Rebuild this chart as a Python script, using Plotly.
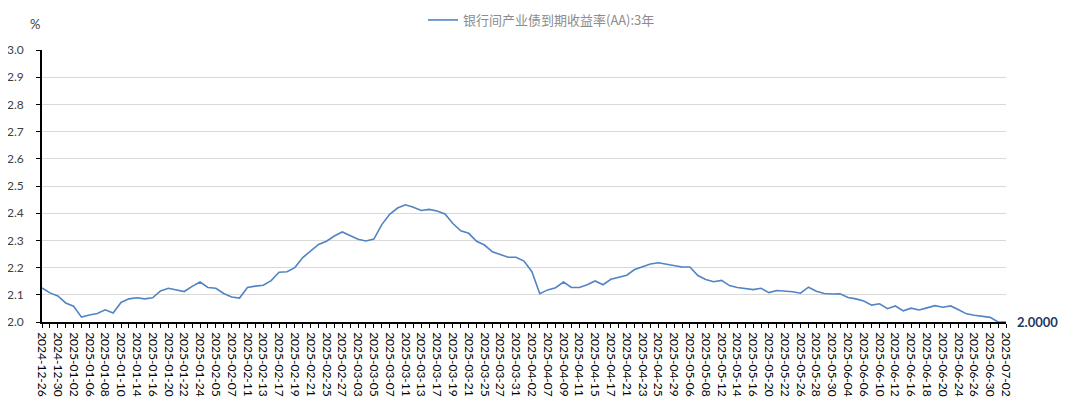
import plotly.graph_objects as go

dates = [
    "2024-12-26", "2024-12-27", "2024-12-30", "2024-12-31",
    "2025-01-02", "2025-01-03", "2025-01-06", "2025-01-07", "2025-01-08", "2025-01-09", "2025-01-10",
    "2025-01-13", "2025-01-14", "2025-01-15", "2025-01-16", "2025-01-17", "2025-01-20", "2025-01-21",
    "2025-01-22", "2025-01-23", "2025-01-24", "2025-01-27",
    "2025-02-05", "2025-02-06", "2025-02-07", "2025-02-10", "2025-02-11", "2025-02-12", "2025-02-13",
    "2025-02-14", "2025-02-17", "2025-02-18", "2025-02-19", "2025-02-20", "2025-02-21", "2025-02-24",
    "2025-02-25", "2025-02-26", "2025-02-27", "2025-02-28",
    "2025-03-03", "2025-03-04", "2025-03-05", "2025-03-06", "2025-03-07", "2025-03-10", "2025-03-11",
    "2025-03-12", "2025-03-13", "2025-03-14", "2025-03-17", "2025-03-18", "2025-03-19", "2025-03-20",
    "2025-03-21", "2025-03-24", "2025-03-25", "2025-03-26", "2025-03-27", "2025-03-28", "2025-03-31",
    "2025-04-01", "2025-04-02", "2025-04-03", "2025-04-07", "2025-04-08", "2025-04-09", "2025-04-10",
    "2025-04-11", "2025-04-14", "2025-04-15", "2025-04-16", "2025-04-17", "2025-04-18", "2025-04-21",
    "2025-04-22", "2025-04-23", "2025-04-24", "2025-04-25", "2025-04-28", "2025-04-29", "2025-04-30",
    "2025-05-06", "2025-05-07", "2025-05-08", "2025-05-09", "2025-05-12", "2025-05-13", "2025-05-14",
    "2025-05-15", "2025-05-16", "2025-05-19", "2025-05-20", "2025-05-21", "2025-05-22", "2025-05-23",
    "2025-05-26", "2025-05-27", "2025-05-28", "2025-05-29", "2025-05-30",
    "2025-06-03", "2025-06-04", "2025-06-05", "2025-06-06", "2025-06-09", "2025-06-10", "2025-06-11",
    "2025-06-12", "2025-06-13", "2025-06-16", "2025-06-17", "2025-06-18", "2025-06-19", "2025-06-20",
    "2025-06-23", "2025-06-24", "2025-06-25", "2025-06-26", "2025-06-27", "2025-06-30",
    "2025-07-01", "2025-07-02",
]

yield_aa_3y = [
    2.125, 2.107, 2.096, 2.070, 2.058, 2.018, 2.026, 2.031, 2.045, 2.033,
    2.072, 2.085, 2.089, 2.085, 2.089, 2.114, 2.124, 2.119, 2.112, 2.131,
    2.147, 2.127, 2.124, 2.105, 2.092, 2.088, 2.127, 2.132, 2.135, 2.152,
    2.183, 2.185, 2.200, 2.237, 2.262, 2.285, 2.297, 2.316, 2.331, 2.316,
    2.304, 2.298, 2.305, 2.358, 2.396, 2.419, 2.431, 2.422, 2.410, 2.414,
    2.408, 2.397, 2.362, 2.335, 2.326, 2.297, 2.283, 2.258, 2.247, 2.238,
    2.238, 2.224, 2.185, 2.104, 2.118, 2.126, 2.147, 2.127, 2.127, 2.137,
    2.151, 2.137, 2.157, 2.165, 2.172, 2.193, 2.203, 2.213, 2.218, 2.213,
    2.209, 2.202, 2.202, 2.171, 2.156, 2.148, 2.153, 2.134, 2.127, 2.124,
    2.119, 2.124, 2.108, 2.116, 2.114, 2.111, 2.106, 2.128, 2.113, 2.105,
    2.103, 2.104, 2.090, 2.085, 2.077, 2.062, 2.067, 2.049, 2.059, 2.041,
    2.051, 2.044, 2.052, 2.060, 2.054, 2.059, 2.045, 2.030, 2.025, 2.022,
    2.017, 2.000, 2.000,
]

series_name = "银行间产业债到期收益率(AA):3年"
y_ticks = [2.0, 2.1, 2.2, 2.3, 2.4, 2.5, 2.6, 2.7, 2.8, 2.9, 3.0]

idx = list(range(len(dates)))
label_idx = idx[::2]
label_txt = [dates[i] for i in label_idx]

LINE = "#5084C4"
FONT = "Lato, 'Noto Sans', sans-serif"

# page body has an 8px default margin, so the figure is 8px smaller and shifted
fig = go.Figure()
fig.add_trace(go.Scatter(
    x=idx, y=yield_aa_3y, mode="lines", name=series_name,
    line=dict(color=LINE, width=1.6), hoverinfo="skip",
))

fig.update_layout(
    template="none",
    width=1072, height=394,
    margin=dict(l=34, r=74, t=42, b=80, autoexpand=False),
    paper_bgcolor="white", plot_bgcolor="white",
    showlegend=True,
    legend=dict(
        orientation="h", x=(423 - 42) / 964, xanchor="left",
        y=1 + 30 / 272, yanchor="middle",
        font=dict(family="'Noto Sans CJK SC', sans-serif", size=13, color="#8c8c8c"),
        bgcolor="rgba(0,0,0,0)",
    ),
    xaxis=dict(
        automargin=False,
        range=[0, len(dates) - 1],
        tickmode="array", tickvals=label_idx, ticktext=label_txt,
        tickangle=90,
        ticks="outside", ticklen=4, tickcolor="black", tickwidth=1,
        minor=dict(dtick=1, tick0=0, ticks="outside", ticklen=4, tickcolor="black", tickwidth=1, showgrid=False),
        showline=True, linecolor="black", linewidth=1.5,
        showgrid=False, zeroline=False,
        ticklabelstandoff=2,
        tickfont=dict(family=FONT, size=12, color="#000000"),
    ),
    yaxis=dict(
        automargin=False,
        range=[2.0, 3.0],
        tickmode="array", tickvals=y_ticks, ticktext=[f"{v:.1f}" for v in y_ticks],
        ticks="outside", ticklen=4, tickcolor="black",
        showline=True, linecolor="black", linewidth=1.5,
        showgrid=True, gridcolor="#d9d9d9", gridwidth=1.2,
        zeroline=False,
        ticklabelstandoff=10,
        tickfont=dict(family=FONT, size=12, color="#404040"),
    ),
    annotations=[
        dict(text="%", xref="paper", yref="paper", x=0, y=1 + 26 / 272,
             xanchor="right", yanchor="middle", showarrow=False,
             font=dict(family=FONT, size=13, color="#404040")),
        dict(text="<b>2.0000</b>", xref="x", yref="y", x=idx[-1], y=yield_aa_3y[-1],
             xanchor="left", yanchor="middle", xshift=9, showarrow=False,
             font=dict(family=FONT, size=13, color="#1F3864")),
    ],
)

fig.write_html("out.html", config={"displayModeBar": False})
